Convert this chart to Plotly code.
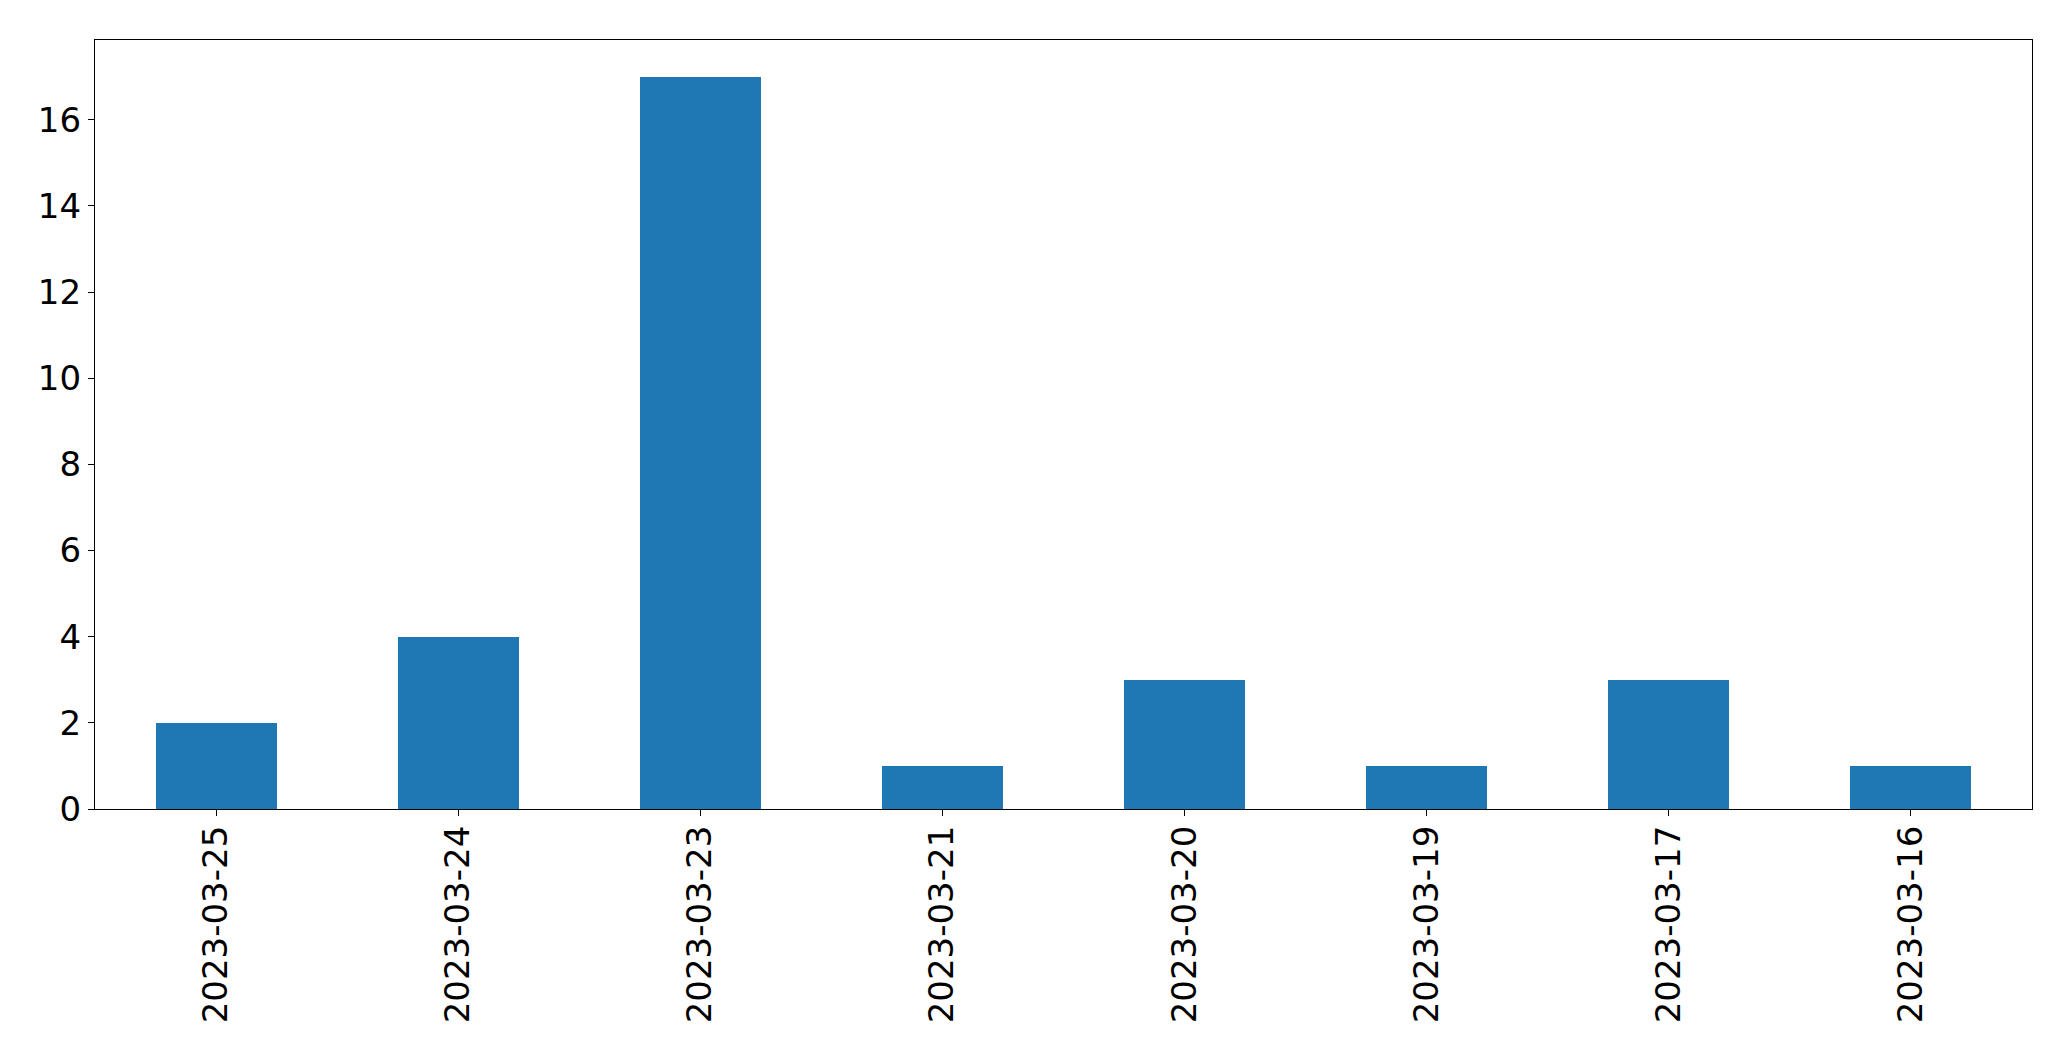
import plotly.graph_objects as go

dates = ["2023-03-25", "2023-03-24", "2023-03-23", "2023-03-21",
         "2023-03-20", "2023-03-19", "2023-03-17", "2023-03-16"]
counts = [2, 4, 17, 1, 3, 1, 3, 1]
y_ticks = [0, 2, 4, 6, 8, 10, 12, 14, 16]

fig = go.Figure(go.Bar(x=dates, y=counts, marker=dict(color="#1f77b4", line=dict(width=0)), width=0.5))

fig.update_layout(
    width=2055, height=1045,
    margin=dict(l=86.5, r=31, t=31.5, b=244, autoexpand=False),
    paper_bgcolor="white", plot_bgcolor="white",
    font=dict(family="DejaVu Sans", size=34, color="black"),
    showlegend=False,
    bargap=0,
)
fig.update_xaxes(
    type="category", range=[-0.5, 7.5], tickangle=-90,
    showline=True, linecolor="black", linewidth=1.3, mirror=True,
    ticks="outside", ticklen=6, tickwidth=1.3, tickcolor="black",
    ticklabelstandoff=-4,
    showgrid=False, zeroline=False,
)
fig.update_yaxes(
    range=[0, 17.85], tickvals=y_ticks,
    showline=True, linecolor="black", linewidth=1.3, mirror=True,
    ticks="outside", ticklen=6, tickwidth=1.3, tickcolor="black",
    showgrid=False, zeroline=False,
)
fig.write_html("out.html")
